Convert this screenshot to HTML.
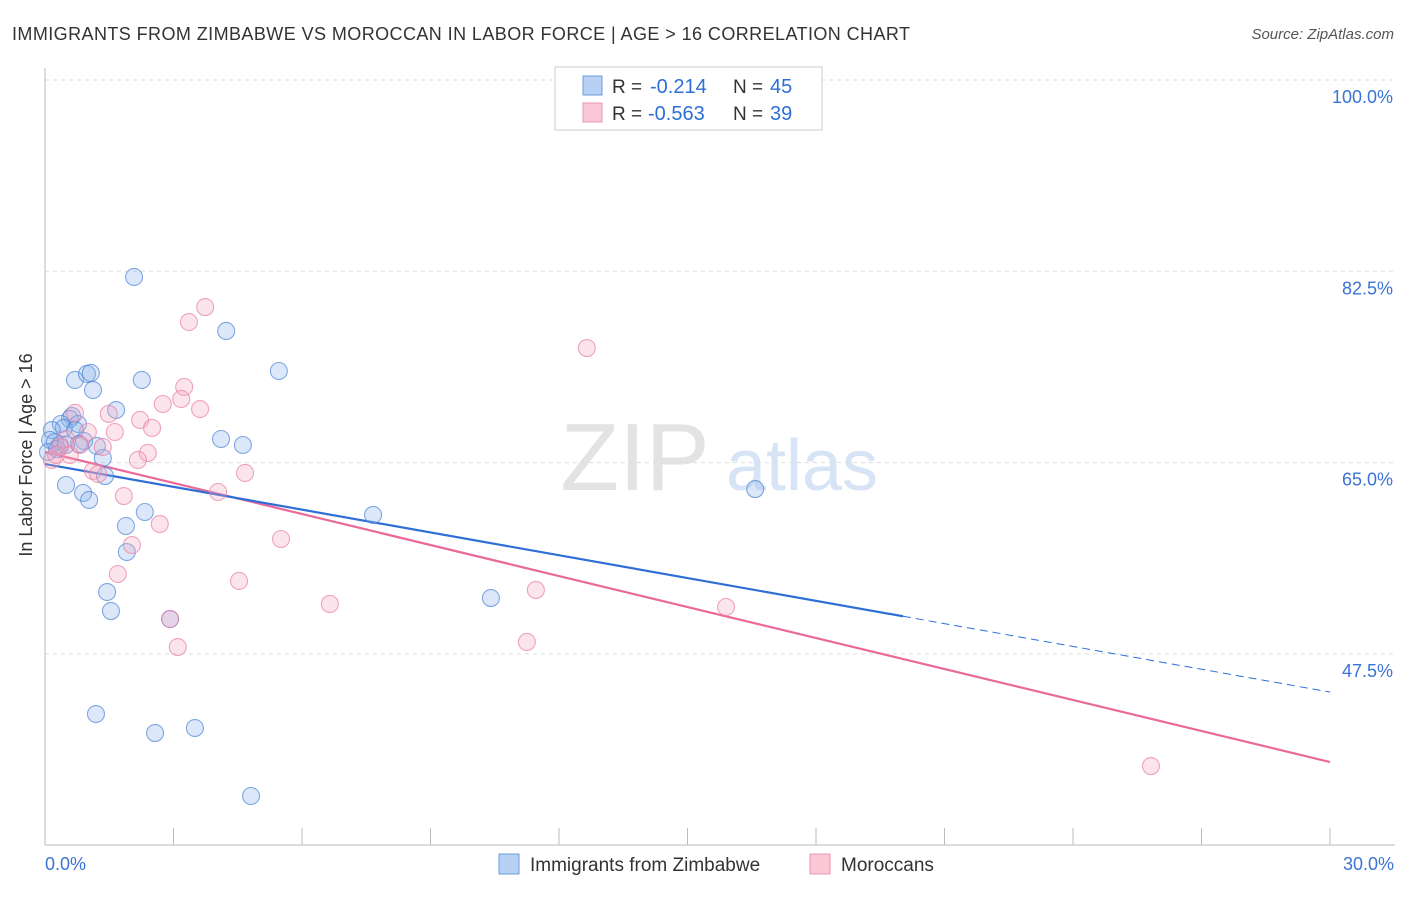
<!DOCTYPE html>
<html><head><meta charset="utf-8"><style>
body{margin:0;background:#fff;font-family:"Liberation Sans",sans-serif;}
svg text{font-family:"Liberation Sans",sans-serif;}
</style></head><body>
<svg id="chart" width="1406" height="892" viewBox="0 0 1406 892" xmlns="http://www.w3.org/2000/svg">
<text x="12" y="40" font-size="18" fill="#333" textLength="898">IMMIGRANTS FROM ZIMBABWE VS MOROCCAN IN LABOR FORCE | AGE &gt; 16 CORRELATION CHART</text>
<text x="1394" y="39" font-size="15" fill="#555" font-style="italic" text-anchor="end">Source: ZipAtlas.com</text>
<g>
<text x="635" y="490" font-size="96" fill="#e3e3e3" font-family="Liberation Serif" text-anchor="middle">ZIP</text>
<text x="802" y="490" font-size="72" fill="#d6e4f5" text-anchor="middle">atlas</text>
</g>
<g id="grid"></g>
<g id="axes"></g>
<g id="lines"></g>
<g id="pts"></g>
<text x="32" y="455" font-size="18" fill="#333" text-anchor="middle" transform="rotate(-90 32 455)">In Labor Force | Age &gt; 16</text>
<g>
<rect x="555" y="67" width="267" height="63" fill="#fff" stroke="#ccc"/>
<rect x="583" y="76" width="19" height="19" fill="#b7d0f4" stroke="#6d9de0"/>
<rect x="583" y="103" width="19" height="19" fill="#f9c7d5" stroke="#ec95b2"/>
<text x="612" y="93" font-size="19" fill="#333">R =</text>
<text x="650" y="93" font-size="20" fill="#2e6fd6">-0.214</text>
<text x="733" y="93" font-size="19" fill="#333">N =</text>
<text x="770" y="93" font-size="20" fill="#2e6fd6">45</text>
<text x="612" y="120" font-size="19" fill="#333">R =</text>
<text x="648" y="120" font-size="20" fill="#2e6fd6">-0.563</text>
<text x="733" y="120" font-size="19" fill="#333">N =</text>
<text x="770" y="120" font-size="20" fill="#2e6fd6">39</text>
</g>
<g>
<rect x="499" y="854" width="20" height="20" fill="#b7d0f4" stroke="#6d9de0"/>
<text x="530" y="871" font-size="19" fill="#333">Immigrants from Zimbabwe</text>
<rect x="810" y="854" width="20" height="20" fill="#f9c7d5" stroke="#ec95b2"/>
<text x="841" y="871" font-size="19" fill="#333">Moroccans</text>
</g>
</svg>
<script>
const yTicks=[100,82.5,65,47.5];
const yTickLabels=["100.0%","82.5%","65.0%","47.5%"];
const xTickLabels=["0.0%","30.0%"];
const blueX=[2.08,4.23,5.46,0.70,0.98,1.07,2.26,1.12,1.66,0.63,0.58,0.37,0.44,0.77,0.70,0.16,0.12,0.23,0.35,0.91,1.21,0.79,4.11,4.62,1.35,1.40,0.49,0.89,1.03,2.33,1.89,7.66,16.58,1.91,1.45,1.54,10.41,2.92,1.19,2.57,3.50,4.81,0.07,0.28,0.49];
const blueY=[81.98,77.04,73.38,72.56,73.11,73.20,72.56,71.64,69.81,69.26,68.99,68.53,68.17,68.53,67.98,67.98,67.07,66.88,66.61,66.98,66.52,66.70,67.16,66.61,65.42,63.77,62.95,62.22,61.58,60.48,59.20,60.21,62.58,56.82,53.16,51.42,52.61,50.69,42.00,40.26,40.72,34.50,65.97,66.24,66.61];
const pinkX=[3.74,3.36,12.65,3.25,2.75,3.18,3.62,1.49,0.70,2.22,2.50,1.63,1.00,1.35,0.49,0.35,0.16,0.26,0.58,2.40,2.17,4.67,1.12,1.24,4.04,1.84,2.68,5.51,2.03,1.70,4.53,6.65,11.46,15.90,2.92,11.25,3.10,25.82,0.82];
const pinkY=[79.23,77.86,75.48,71.92,70.36,70.82,69.90,69.45,69.54,68.90,68.17,67.80,67.80,66.43,67.16,66.43,65.24,65.70,65.70,65.88,65.24,64.05,64.23,63.96,62.31,61.94,59.38,58.01,57.46,54.81,54.17,52.07,53.35,51.79,50.69,48.59,48.13,37.24,66.61];
const blueTrend=[64.87,44.01];
const blueSolidEnd=20.03;
const pinkTrend=[65.97,37.61];
const X0=45,X1=1330,Y100=80,YPX=191.3/17.5;
const sx=v=>X0+(v/30)*(X1-X0);
const sy=v=>Y100+(100-v)*YPX;
const NS="http://www.w3.org/2000/svg";
function mk(tag,attrs,parent){const e=document.createElementNS(NS,tag);for(const k in attrs)e.setAttribute(k,attrs[k]);parent.appendChild(e);return e;}
const grid=document.getElementById('grid'),axes=document.getElementById('axes'),lines=document.getElementById('lines'),pts=document.getElementById('pts');
yTicks.forEach((t,i)=>{
  const g=mk('line',{x1:X0,x2:1395,y1:sy(t),y2:sy(t),stroke:'#ddd','stroke-dasharray':'4,4'},grid);
  
  
  const tx=mk('text',{x:1393,y:sy(t)+23,'font-size':18,fill:'#3a74d4','text-anchor':'end'},axes);
  tx.textContent=yTickLabels[i];
  
  
});
mk('line',{x1:X0,x2:X0,y1:68,y2:845,stroke:'#bbb'},axes);
mk('line',{x1:X0,x2:1395,y1:845,y2:845,stroke:'#bbb'},axes);
for(let i=0;i<=10;i++){const x=sx(i*3);const t=mk('line',{x1:x,x2:x,y1:828,y2:845,stroke:'#bbb'},axes);}
[[0,'start',45],[30,'end',1394]].forEach((d,i)=>{const t=mk('text',{x:d[2],y:870,'font-size':18,fill:'#3a74d4','text-anchor':d[1]},axes);t.textContent=xTickLabels[i];});
function drawPts(xs,ys,fill,stroke,name){xs.forEach((x,i)=>{const c=mk('circle',{cx:sx(x),cy:sy(ys[i]),r:8.5,fill:fill,'fill-opacity':0.3,stroke:stroke,'stroke-width':1.1,'stroke-opacity':0.7},pts);});}
drawPts(blueX,blueY,'#8ab4ec','#4f86d6','zimbabwe-point');
drawPts(pinkX,pinkY,'#f5a6bf','#e880a4','moroccan-point');
const by=x=>blueTrend[0]+(blueTrend[1]-blueTrend[0])*x/30;
const py=x=>pinkTrend[0]+(pinkTrend[1]-pinkTrend[0])*x/30;
let l=mk('line',{x1:sx(0),y1:sy(py(0)),x2:sx(30),y2:sy(py(30)),stroke:'#e8699a','stroke-width':2.2},lines);

l=mk('line',{x1:sx(0),y1:sy(by(0)),x2:sx(blueSolidEnd),y2:sy(by(blueSolidEnd)),stroke:'#2e6fd6','stroke-width':2.2},lines);

l=mk('line',{x1:sx(blueSolidEnd),y1:sy(by(blueSolidEnd)),x2:sx(30),y2:sy(by(30)),stroke:'#2e6fd6','stroke-width':1,'stroke-dasharray':'8,5'},lines);

</script>
</body></html>
